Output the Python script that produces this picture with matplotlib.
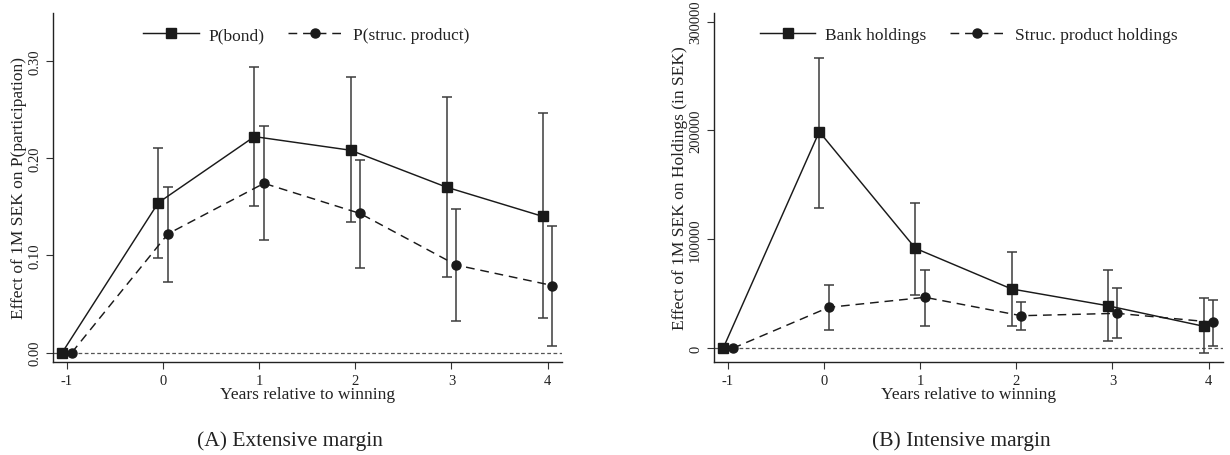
import matplotlib
matplotlib.use("Agg")
import matplotlib.pyplot as plt
import numpy as np

plt.rcParams['font.family'] = ['Liberation Serif', 'DejaVu Serif']

years = [-1, 0, 1, 2, 3, 4]
xtick_labels = ['-1', '0', '1', '2', '3', '4']

# Panel A: extensive margin
bond_est = [0.0, 0.154, 0.222, 0.208, 0.170, 0.140]
bond_lo = [np.nan, 0.097, 0.151, 0.134, 0.078, 0.036]
bond_hi = [np.nan, 0.210, 0.294, 0.283, 0.263, 0.246]
sp_est = [0.0, 0.122, 0.174, 0.143, 0.090, 0.069]
sp_lo = [np.nan, 0.073, 0.116, 0.087, 0.033, 0.007]
sp_hi = [np.nan, 0.170, 0.233, 0.198, 0.148, 0.130]

# Panel B: intensive margin
bank_est = [0, 198900, 91800, 54500, 39100, 20200]
bank_lo = [np.nan, 128800, 49000, 20800, 7000, -4300]
bank_hi = [np.nan, 266300, 133100, 88700, 71900, 45900]
sph_est = [0, 37600, 46800, 29900, 32100, 23900]
sph_lo = [np.nan, 16800, 20800, 16800, 9500, 2400]
sph_hi = [np.nan, 58100, 72200, 42800, 55100, 44400]

fig = plt.figure(figsize=(12.3, 4.56), dpi=100)

W, H = 1230, 456
def pos(l, r, t, b):
    return [l / W, 1 - b / H, (r - l) / W, (b - t) / H]

mcol = '#1a1a1a'
ecol = '#3c3c3c'

def panel(ax, est1, lo1, hi1, est2, lo2, hi2, lab1, lab2, ylim, yticks, ylabels, ylabel, ylab_x, legx):
    x = np.array(years, dtype=float)
    x1 = x - 0.05
    x2 = x + 0.05
    e1 = np.array(est1, float); l1 = np.array(lo1, float); h1 = np.array(hi1, float)
    e2 = np.array(est2, float); l2 = np.array(lo2, float); h2 = np.array(hi2, float)
    ax.axhline(0, color='#555555', lw=0.9, ls=(0, (3, 2)), zorder=1)
    m = ~np.isnan(l1)
    ax.errorbar(x1[m], e1[m], yerr=[e1[m] - l1[m], h1[m] - e1[m]], fmt='none',
                ecolor=ecol, elinewidth=1.1, capsize=3.5, capthick=1.1, zorder=2)
    m2 = ~np.isnan(l2)
    ax.errorbar(x2[m2], e2[m2], yerr=[e2[m2] - l2[m2], h2[m2] - e2[m2]], fmt='none',
                ecolor=ecol, elinewidth=1.1, capsize=3.5, capthick=1.1, zorder=2)
    ax.plot(x1, e1, '-', color=mcol, lw=1.05, marker='s', ms=7, mfc=mcol, mec=mcol, label=lab1, zorder=3)
    ax.plot(x2, e2, '--', color=mcol, lw=1.05, marker='o', ms=6.5, mfc=mcol, mec=mcol, label=lab2,
            dashes=(6, 4), zorder=3)
    ax.set_xlim(-1.145, 4.15)
    ax.set_ylim(*ylim)
    ax.set_xticks(years)
    ax.set_xticklabels(xtick_labels)
    ax.set_yticks(yticks)
    ax.set_yticklabels(ylabels, rotation=90, va='center')
    ax.tick_params(axis='both', labelsize=10.5, length=5, width=0.8, color='#333333', labelcolor='#222222')
    for s in ['top', 'right']:
        ax.spines[s].set_visible(False)
    for s in ['left', 'bottom']:
        ax.spines[s].set_linewidth(1.0)
        ax.spines[s].set_color('#222222')
    ax.set_xlabel('Years relative to winning', fontsize=12.5, color='#222222')
    ax.xaxis.set_label_coords(0.5, -0.092)
    ax.xaxis.label.set_va('center')
    ax.set_ylabel(ylabel, fontsize=12.5, color='#222222')
    ax.yaxis.set_label_coords(ylab_x, 0.5)
    ax.yaxis.label.set_va('center')
    ax.legend(loc='center', bbox_to_anchor=(legx, 0.936), ncol=2, frameon=False,
              fontsize=12.5, handlelength=3.2, handletextpad=0.55, columnspacing=1.35,
              labelcolor='#222222')
    return ax

axA = fig.add_axes(pos(53, 562, 14, 363))
panel(axA, bond_est, bond_lo, bond_hi, sp_est, sp_lo, sp_hi, 'P(bond)', 'P(struc. product)',
      (-0.0096, 0.349), [0, 0.1, 0.2, 0.3], ['0.00', '0.10', '0.20', '0.30'],
      'Effect of 1M SEK on P(participation)', -0.066, 0.497)

axB = fig.add_axes(pos(714, 1223, 14, 363))
panel(axB, bank_est, bank_lo, bank_hi, sph_est, sph_lo, sph_hi, 'Bank holdings', 'Struc. product holdings',
      (-12600, 307900), [0, 100000, 200000, 300000], ['0', '100000', '200000', '300000'],
      'Effect of 1M SEK on Holdings (in SEK)', -0.066, 0.5)

fig.text(290 / W, 1 - 441 / H, '(A) Extensive margin', ha='center', va='center', fontsize=15.5, color='#222222')
fig.text(961 / W, 1 - 441 / H, '(B) Intensive margin', ha='center', va='center', fontsize=15.5, color='#222222')

fig.savefig('out.png', dpi=100)
